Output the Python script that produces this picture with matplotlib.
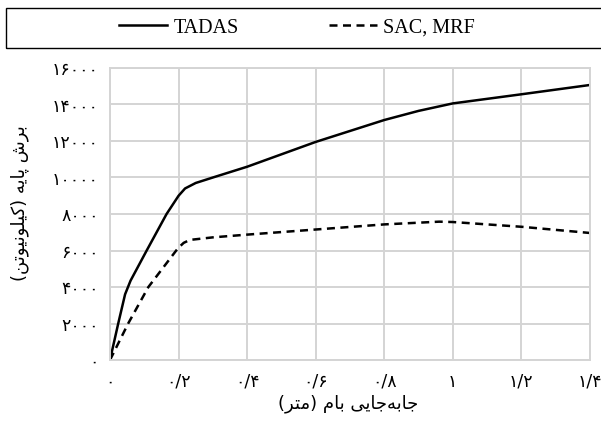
import matplotlib
matplotlib.use("Agg")
import matplotlib.pyplot as plt
from matplotlib.lines import Line2D
from matplotlib.patches import Rectangle

# ---- data ----
tadas_x = [0.0, 0.024, 0.044, 0.060, 0.107, 0.165, 0.200, 0.219, 0.25, 0.30, 0.40, 0.60, 0.80, 0.90, 1.00, 1.20, 1.40]
tadas_y = [0, 2000, 3600, 4350, 6000, 8000, 9000, 9400, 9700, 10000, 10590, 11950, 13150, 13650, 14060, 14560, 15070]
sac_x = [0.0, 0.053, 0.112, 0.198, 0.215, 0.233, 0.30, 0.40, 0.60, 0.80, 0.96, 1.00, 1.20, 1.40]
sac_y = [0, 2000, 4000, 6120, 6420, 6580, 6720, 6870, 7150, 7430, 7580, 7560, 7300, 6960]
x_ticks = [0, 0.2, 0.4, 0.6, 0.8, 1.0, 1.2, 1.4]
x_tick_labels = ["۰", "۰/۲", "۰/۴", "۰/۶", "۰/۸", "۱", "۱/۲", "۱/۴"]
y_ticks = [0, 2000, 4000, 6000, 8000, 10000, 12000, 14000, 16000]
y_tick_labels = ["۰", "۲۰۰۰", "۴۰۰۰", "۶۰۰۰", "۸۰۰۰", "۱۰۰۰۰", "۱۲۰۰۰", "۱۴۰۰۰", "۱۶۰۰۰"]
series_names = ["TADAS", "SAC, MRF"]
x_label = "جابه\u200cجایی بام (متر)"
y_label = "برش پایه (کیلونیوتن)"

# ---- minimal Persian shaping (presentation forms) + RTL ordering ----
FORMS = {
    "ب": (0xFE8F, 0xFE90, 0xFE91, 0xFE92),
    "ر": (0xFEAD, 0xFEAE, None, None),
    "ش": (0xFEB5, 0xFEB6, 0xFEB7, 0xFEB8),
    "پ": (0xFB56, 0xFB57, 0xFB58, 0xFB59),
    "ا": (0xFE8D, 0xFE8E, None, None),
    "ی": (0xFBFC, 0xFBFD, 0xFBFE, 0xFBFF),
    "ه": (0xFEE9, 0xFEEA, 0xFEEB, 0xFEEC),
    "ک": (0xFB8E, 0xFB8F, 0xFB90, 0xFB91),
    "ل": (0xFEDD, 0xFEDE, 0xFEDF, 0xFEE0),
    "و": (0xFEED, 0xFEEE, None, None),
    "ن": (0xFEE5, 0xFEE6, 0xFEE7, 0xFEE8),
    "ت": (0xFE95, 0xFE96, 0xFE97, 0xFE98),
    "ج": (0xFE9D, 0xFE9E, 0xFE9F, 0xFEA0),
    "م": (0xFEE1, 0xFEE2, 0xFEE3, 0xFEE4),
}


def shape(text):
    out = []
    n = len(text)
    for i, c in enumerate(text):
        if c not in FORMS:
            if c != "\u200c":
                out.append(c)
            continue
        prev = text[i - 1] if i > 0 else None
        nxt = text[i + 1] if i < n - 1 else None
        jp = prev in FORMS and FORMS[prev][2] is not None
        jn = FORMS[c][2] is not None and nxt in FORMS
        f = FORMS[c]
        if jp and jn:
            code = f[3]
        elif jp:
            code = f[1]
        elif jn:
            code = f[2]
        else:
            code = f[0]
        out.append(chr(code))
    vis = "".join(reversed(out))
    vis = vis.translate(str.maketrans({"(": ")", ")": "("}))
    return vis


W, H = 601, 423
fig = plt.figure(figsize=(W / 100, H / 100), dpi=100)
ax = fig.add_axes([110 / W, 1 - 360 / H, 480 / W, 292 / H])

ax.plot(tadas_x, tadas_y, color="black", lw=1.8, solid_capstyle="butt",
        solid_joinstyle="round")
ax.plot(sac_x, sac_y, color="black", lw=1.8, linestyle=(0, (3.2, 2.2)))

ax.set_xlim(0, 1.4)
ax.set_ylim(0, 16000)
ax.set_xticks(x_ticks)
ax.set_xticklabels(x_tick_labels)
ax.set_yticks(y_ticks)
ax.set_yticklabels(y_tick_labels)
ax.tick_params(length=0, labelsize=12.5)
ax.tick_params(axis="x", pad=9)
ax.tick_params(axis="y", pad=8)
for lab in ax.get_xticklabels() + ax.get_yticklabels():
    lab.set_family(["DejaVu Sans"])
ax.grid(True, color="#d4d4d4", lw=1.4)
ax.set_axisbelow(True)
for sp in ax.spines.values():
    sp.set_color("#d4d4d4")
    sp.set_linewidth(1.4)

fig.text(348 / W, 1 - 404 / H, shape(x_label), ha="center", va="center",
         fontsize=13, family=["DejaVu Sans"])
fig.text(20 / W, 1 - 203 / H, shape(y_label), ha="center", va="center",
         rotation=90, fontsize=13, family=["DejaVu Sans"])

# legend box spanning the top
fig.patches.append(Rectangle((6 / W, 1 - 48 / H), 600 / W, 40 / H,
                             transform=fig.transFigure, fill=False,
                             edgecolor="black", lw=1.0))
handles = [Line2D([], [], color="black", lw=1.8),
           Line2D([], [], color="black", lw=1.8, linestyle=(0, (3.2, 2.2)))]
fig.legend(handles, series_names, loc="center", bbox_to_anchor=(297 / W, 1 - 28 / H),
           ncol=2, frameon=False, handlelength=2.4, handletextpad=0.3,
           columnspacing=4.5, prop={"family": "Liberation Serif", "size": 14.5})

fig.savefig("out.png", dpi=100)
